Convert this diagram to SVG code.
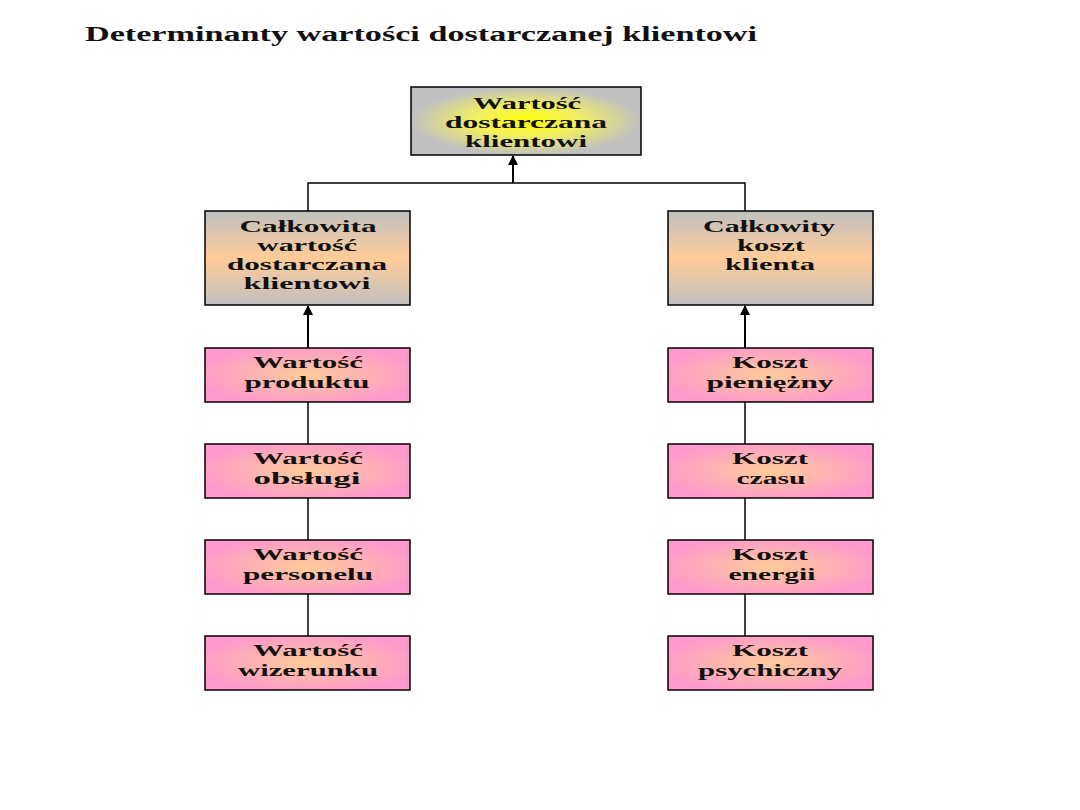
<svg xmlns="http://www.w3.org/2000/svg" width="1080" height="810" viewBox="0 0 1080 810">
<style>
.t{font-family:"Liberation Serif","Times New Roman",serif;font-weight:bold;font-size:17px;fill:#111;text-anchor:middle}
.title{font-family:"Liberation Serif","Times New Roman",serif;font-weight:bold;font-size:20px;fill:#111}
.box{stroke:#000;stroke-width:1.5}
.c{stroke:#000;stroke-width:1.5;fill:none}
.a{stroke:#000;stroke-width:2;fill:none}
</style>
<defs>
<radialGradient id="gTop" cx="50%" cy="50%" r="50%">
<stop offset="0" stop-color="#FFFF00"/>
<stop offset="0.45" stop-color="#F2F060"/>
<stop offset="1" stop-color="#C0C0C0"/>
</radialGradient>
<linearGradient id="gMid" x1="0" y1="0" x2="0" y2="1">
<stop offset="0" stop-color="#C0C0C0"/>
<stop offset="0.5" stop-color="#FFCC99"/>
<stop offset="1" stop-color="#C0C0C0"/>
</linearGradient>
<radialGradient id="gPink" cx="50%" cy="50%" r="55%">
<stop offset="0" stop-color="#FFCC99"/>
<stop offset="1" stop-color="#FF99CC"/>
</radialGradient>
<marker id="arr" viewBox="0 0 10 10" refX="9" refY="5" markerWidth="5" markerHeight="5" orient="auto" markerUnits="strokeWidth">
<path d="M0,0 L10,5 L0,10 z" fill="#000"/>
</marker>
</defs>
<rect width="1080" height="810" fill="#fff"/>
<text class="title" x="85" y="41" textLength="672" lengthAdjust="spacingAndGlyphs">Determinanty wartości dostarczanej klientowi</text>

<g id="connectors">
<line class="a" x1="513" y1="183" x2="513" y2="156" marker-end="url(#arr)"/>
<polyline class="c" points="308,211 308,183 745,183 745,211"/>
<line class="a" x1="308" y1="348" x2="308" y2="306" marker-end="url(#arr)"/>
<line class="a" x1="745" y1="348" x2="745" y2="306" marker-end="url(#arr)"/>
<line class="c" x1="308" y1="402" x2="308" y2="444"/>
<line class="c" x1="308" y1="498" x2="308" y2="540"/>
<line class="c" x1="308" y1="594" x2="308" y2="636"/>
<line class="c" x1="745" y1="402" x2="745" y2="444"/>
<line class="c" x1="745" y1="498" x2="745" y2="540"/>
<line class="c" x1="745" y1="594" x2="745" y2="636"/>
</g>

<g id="top">
<rect class="box" x="411" y="87" width="230" height="68" fill="url(#gTop)"/>
<text class="t" x="527" y="109" textLength="108" lengthAdjust="spacingAndGlyphs">Wartość</text>
<text class="t" x="526" y="128" textLength="162" lengthAdjust="spacingAndGlyphs">dostarczana</text>
<text class="t" x="526" y="147" textLength="122" lengthAdjust="spacingAndGlyphs">klientowi</text>
</g>

<g id="midLeft">
<rect class="box" x="205" y="211" width="205" height="94" fill="url(#gMid)"/>
<text class="t" x="308" y="232" textLength="137" lengthAdjust="spacingAndGlyphs">Całkowita</text>
<text class="t" x="307" y="251" textLength="100" lengthAdjust="spacingAndGlyphs">wartość</text>
<text class="t" x="307" y="270" textLength="160" lengthAdjust="spacingAndGlyphs">dostarczana</text>
<text class="t" x="307" y="289" textLength="127" lengthAdjust="spacingAndGlyphs">klientowi</text>
</g>

<g id="midRight">
<rect class="box" x="668" y="211" width="205" height="94" fill="url(#gMid)"/>
<text class="t" x="769" y="232" textLength="132" lengthAdjust="spacingAndGlyphs">Całkowity</text>
<text class="t" x="771" y="251" textLength="68" lengthAdjust="spacingAndGlyphs">koszt</text>
<text class="t" x="770" y="270" textLength="90" lengthAdjust="spacingAndGlyphs">klienta</text>
</g>

<g id="l1">
<rect class="box" x="205" y="348" width="205" height="54" fill="url(#gPink)"/>
<text class="t" x="308" y="368" textLength="110" lengthAdjust="spacingAndGlyphs">Wartość</text>
<text class="t" x="307" y="388" textLength="125" lengthAdjust="spacingAndGlyphs">produktu</text>
</g>
<g id="l2">
<rect class="box" x="205" y="444" width="205" height="54" fill="url(#gPink)"/>
<text class="t" x="308" y="464" textLength="110" lengthAdjust="spacingAndGlyphs">Wartość</text>
<text class="t" x="307" y="484" textLength="107" lengthAdjust="spacingAndGlyphs">obsługi</text>
</g>
<g id="l3">
<rect class="box" x="205" y="540" width="205" height="54" fill="url(#gPink)"/>
<text class="t" x="308" y="560" textLength="110" lengthAdjust="spacingAndGlyphs">Wartość</text>
<text class="t" x="308" y="580" textLength="130" lengthAdjust="spacingAndGlyphs">personelu</text>
</g>
<g id="l4">
<rect class="box" x="205" y="636" width="205" height="54" fill="url(#gPink)"/>
<text class="t" x="308" y="656" textLength="110" lengthAdjust="spacingAndGlyphs">Wartość</text>
<text class="t" x="308" y="676" textLength="140" lengthAdjust="spacingAndGlyphs">wizerunku</text>
</g>

<g id="r1">
<rect class="box" x="668" y="348" width="205" height="54" fill="url(#gPink)"/>
<text class="t" x="770" y="368" textLength="76" lengthAdjust="spacingAndGlyphs">Koszt</text>
<text class="t" x="770" y="388" textLength="127" lengthAdjust="spacingAndGlyphs">pieniężny</text>
</g>
<g id="r2">
<rect class="box" x="668" y="444" width="205" height="54" fill="url(#gPink)"/>
<text class="t" x="770" y="464" textLength="76" lengthAdjust="spacingAndGlyphs">Koszt</text>
<text class="t" x="771" y="484" textLength="69" lengthAdjust="spacingAndGlyphs">czasu</text>
</g>
<g id="r3">
<rect class="box" x="668" y="540" width="205" height="54" fill="url(#gPink)"/>
<text class="t" x="770" y="560" textLength="76" lengthAdjust="spacingAndGlyphs">Koszt</text>
<text class="t" x="772" y="580" textLength="87" lengthAdjust="spacingAndGlyphs">energii</text>
</g>
<g id="r4">
<rect class="box" x="668" y="636" width="205" height="54" fill="url(#gPink)"/>
<text class="t" x="770" y="656" textLength="76" lengthAdjust="spacingAndGlyphs">Koszt</text>
<text class="t" x="770" y="676" textLength="144" lengthAdjust="spacingAndGlyphs">psychiczny</text>
</g>
</svg>
